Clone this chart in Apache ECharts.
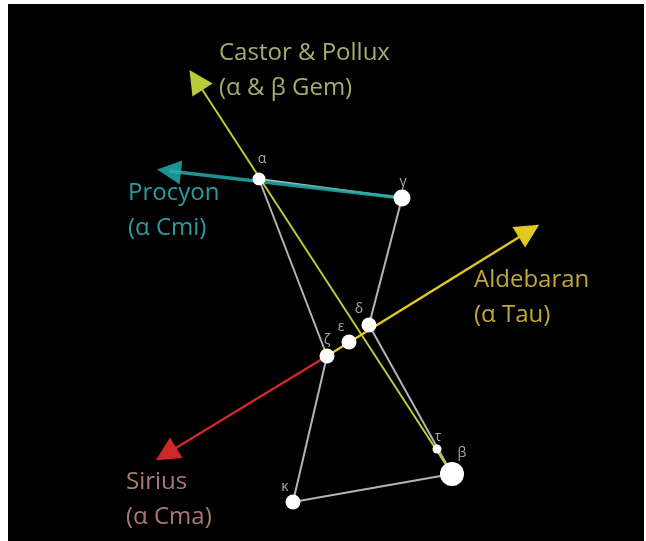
<!DOCTYPE html>
<html>
<head>
<meta charset="utf-8">
<script src="https://cdn.jsdelivr.net/npm/echarts@6/dist/echarts.min.js"></script>
<style>
html, body { margin: 0; padding: 0; background: #fff; }
#chart { width: 646px; height: 541px; }
</style>
</head>
<body>
<div id="chart"></div>
<script>
// stars of Orion (chart units, y grows downward)
const starNames = ['α', 'γ', 'δ', 'ε', 'ζ', 'τ', 'β', 'κ']
const starX = [251, 394, 361, 341, 319, 429, 444, 285]
const starY = [175, 194, 321, 338, 352, 445, 470, 498]
const starSize = [13, 17, 15, 15, 15, 9, 24, 15]
const letterX = [254, 395, 351, 333, 319, 430, 454, 277]
const letterY = [155, 178, 305, 323, 336, 433, 449, 483]

const edges = [['α', 'ζ'], ['α', 'γ'], ['γ', 'δ'], ['δ', 'β'], ['ζ', 'κ'], ['κ', 'β']]

// pointers to neighbouring stars
const targetNames = ['Castor & Pollux\n(α & β Gem)', 'Procyon\n(α Cmi)', 'Aldebaran\n(α Tau)', 'Sirius\n(α Cma)']
const targetFrom = ['β', 'γ', 'ζ', 'ζ']
const targetX = [188, 161, 521, 158]
const targetY = [76, 167, 227, 450]
const labelX = [211, 120, 466, 118]
const labelY = [67, 207, 294, 496]

const lineColors = ['#bccb3a', '#22abab', '#e0c820', '#d02828']
const lineWidths = [2, 3.5, 2.5, 2.5]
const textColors = ['#d0d78a', '#36c2c2', '#f0d244', '#d69696']

function pos(name) {
    const i = starNames.indexOf(name)
    return [starX[i], starY[i]]
}

const edgeData = edges.map(e => ({ coords: [pos(e[0]), pos(e[1])] }))
const arrowData = targetNames.map((n, i) => ({
    coords: [pos(targetFrom[i]), [targetX[i], targetY[i]]],
    lineStyle: { color: lineColors[i], width: lineWidths[i], opacity: i === 1 ? 0.85 : 1 },
    itemStyle: { color: lineColors[i] }
}))
const starData = starNames.map((n, i) => ({ value: [starX[i], starY[i]], symbolSize: starSize[i] }))
const letterData = starNames.map((n, i) => ({ value: [letterX[i], letterY[i]], name: n }))
const targetLabelData = targetNames.map((n, i) => ({
    value: [labelX[i], labelY[i]],
    name: n,
    label: { color: textColors[i] }
}))

const chart = echarts.init(document.getElementById('chart'))
chart.setOption({
    backgroundColor: '#fff',
    animation: false,
    grid: { left: 8, top: 4, right: 2, bottom: 0, show: true, backgroundColor: '#000', borderWidth: 0 },
    xAxis: { type: 'value', min: 0, max: 636, show: false },
    yAxis: { type: 'value', min: 0, max: 537, inverse: true, show: false },
    series: [
        {
            type: 'lines',
            coordinateSystem: 'cartesian2d',
            silent: true,
            lineStyle: { color: '#d4d4d4', width: 2, opacity: 0.85 },
            data: edgeData,
            z: 1
        },
        {
            type: 'lines',
            coordinateSystem: 'cartesian2d',
            silent: true,
            symbol: ['none', 'triangle'],
            symbolSize: 24,
            data: arrowData,
            z: 2
        },
        {
            type: 'scatter',
            silent: true,
            itemStyle: { color: '#fff', opacity: 1 },
            data: starData,
            z: 3
        },
        {
            type: 'scatter',
            silent: true,
            symbolSize: 0,
            label: {
                show: true,
                position: 'inside',
                formatter: '{b}',
                color: '#d0d0d0',
                fontSize: 14,
                fontFamily: 'Open Sans'
            },
            data: letterData,
            z: 4
        },
        {
            type: 'scatter',
            silent: true,
            symbolSize: 0,
            label: {
                show: true,
                position: 'right',
                distance: 0,
                align: 'left',
                verticalAlign: 'middle',
                formatter: '{b}',
                fontSize: 24,
                lineHeight: 35,
                fontFamily: 'Open Sans'
            },
            data: targetLabelData,
            z: 4
        }
    ]
})
</script>
</body>
</html>
